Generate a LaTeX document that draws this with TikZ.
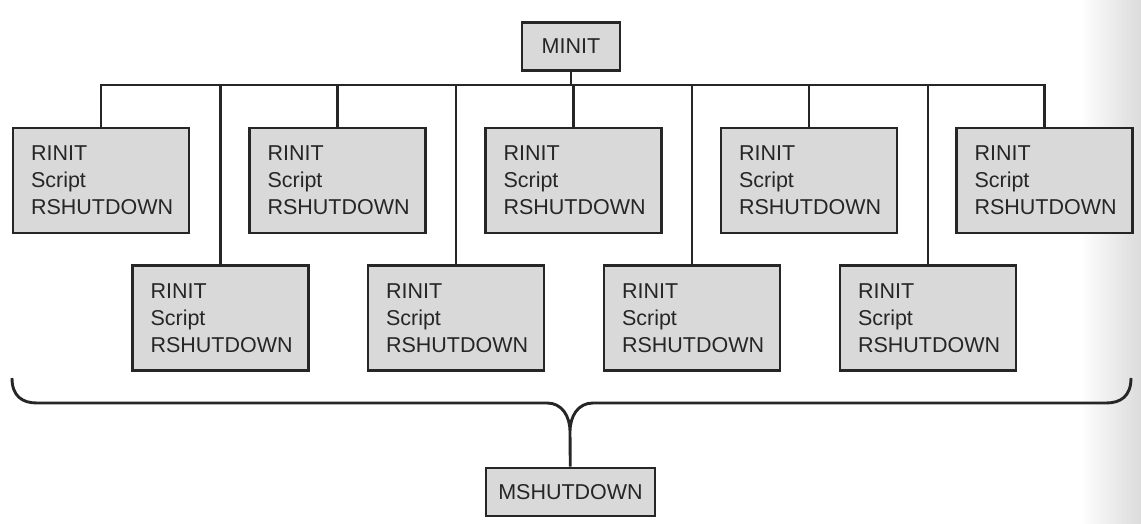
\documentclass[tikz,border=0pt]{standalone}
\usepackage{fontspec}
\setmainfont{Liberation Sans}
\usetikzlibrary{positioning, calc}

\begin{document}
\begin{tikzpicture}[x=1pt, y=-1pt,
            job/.style={rectangle, draw=black!85, fill=black!15, line width=2.9pt,
                minimum width=176pt, minimum height=105pt, text width=140pt,
                inner xsep=18pt, align=left, text=black!85,
                font=\fontsize{21.5}{27}\selectfont},
            ctl/.style={rectangle, draw=black!85, fill=black!15, line width=2.9pt,
                minimum height=48pt, inner xsep=10pt, text=black!85,
                font=\fontsize{21.5}{24}\selectfont},
            wire/.style={draw=black!85, line width=2.9pt}
        ]
        \useasboundingbox (0,0) rectangle (1141,523);
        % faded right edge
        \shade[left color=white, right color=black!14] (1080,0) rectangle (1141,523);
        % Master
        \node[ctl, minimum width=98pt] (minit) at (571,46.5) {MINIT};
        \coordinate (bus) at (571,85);
        % Upper row
        \node[job] (t1) at (101,180.5) {RINIT\\Script\\RSHUTDOWN};
        \node[job] (t2) at (337.5,180.5) {RINIT\\Script\\RSHUTDOWN};
        \node[job] (t3) at (573.5,180.5) {RINIT\\Script\\RSHUTDOWN};
        \node[job] (t4) at (809,180.5) {RINIT\\Script\\RSHUTDOWN};
        \node[job] (t5) at (1044.5,180.5) {RINIT\\Script\\RSHUTDOWN};
        % Lower row
        \node[job] (b1) at (220.5,318) {RINIT\\Script\\RSHUTDOWN};
        \node[job] (b2) at (456,318) {RINIT\\Script\\RSHUTDOWN};
        \node[job] (b3) at (692,318) {RINIT\\Script\\RSHUTDOWN};
        \node[job] (b4) at (928,318) {RINIT\\Script\\RSHUTDOWN};
        % Bus
        \draw[wire] (minit) -- (bus);
        \draw[wire] (t1.north) |- (bus) -| (t5.north);
        \draw[wire] (t2.north) -- (t2.north |- bus);
        \draw[wire] (t3.north) -- (t3.north |- bus);
        \draw[wire] (t4.north) -- (t4.north |- bus);
        \draw[wire] (b1.north) -- (b1.north |- bus);
        \draw[wire] (b2.north) -- (b2.north |- bus);
        \draw[wire] (b3.north) -- (b3.north |- bus);
        \draw[wire] (b4.north) -- (b4.north |- bus);
        % Brace
        \node[ctl, minimum width=169pt] (mshut) at (570.5,492) {MSHUTDOWN};
        \coordinate (tip) at (570,432);
        \draw[wire] (12,378) .. controls (12,396) and (22,403) .. (37,403)
            -- (547,403) .. controls (562,403) and (570,416) .. (tip)
            .. controls (570,416) and (578,403) .. (593,403)
            -- (1106,403) .. controls (1121,403) and (1131,396) .. (1131,378);
        \draw[wire] (tip) -- (mshut);
\end{tikzpicture}
\end{document}
